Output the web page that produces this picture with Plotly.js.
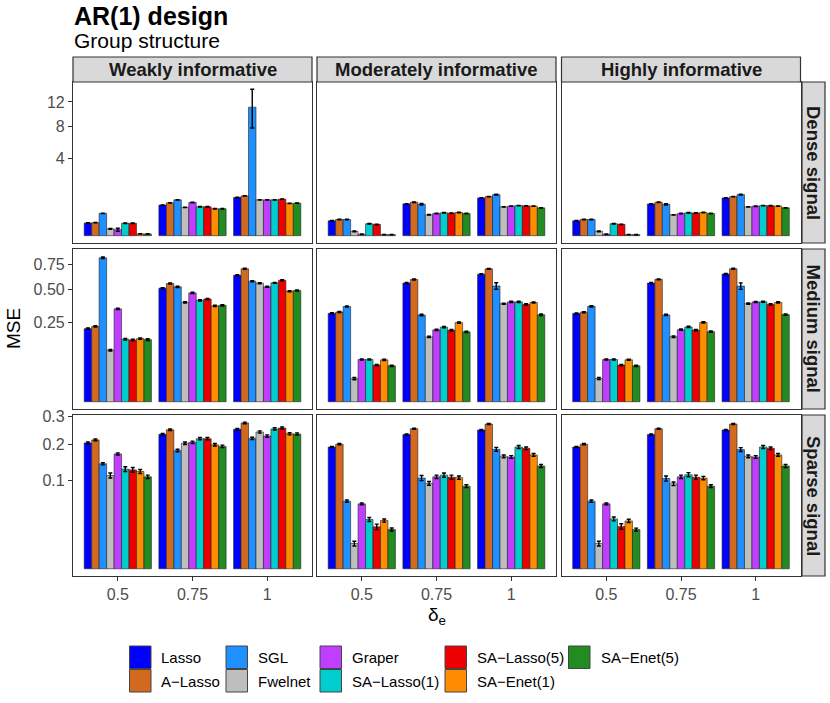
<!DOCTYPE html>
<html lang="en">
    <head>
        <meta charset="UTF-8" />
        <meta name="viewport" content="width=device-width, initial-scale=1.0" />
        <script src="https://cdn.plot.ly/plotly-3.0.1.min.js"></script>
        <title>AR(1) design - Group structure</title>
        <style>
            html, body { margin: 0; padding: 0; background: #fff; }
        </style>
    </head>
    <body>
        <div id="graph"></div>
    </body>
    <script>
        // Methods, colours and facet labels
        const methods = ["Lasso", "A\u2212Lasso", "SGL", "Fwelnet", "Graper",
            "SA\u2212Lasso(1)", "SA\u2212Lasso(5)", "SA\u2212Enet(1)", "SA\u2212Enet(5)"];
        const colors = ["#0000FF", "#D2691E", "#1E90FF", "#BEBEBE", "#BF3EFF",
            "#00CDCD", "#EE0000", "#FF8C00", "#228B22"];
        const deltas = ["0.5", "0.75", "1"];
        const priors = ["Weakly informative", "Moderately informative", "Highly informative"];
        const signals = ["Dense signal", "Medium signal", "Sparse signal"];

        // y ticks per row (sqrt scale)
        const yTickVals = [[4, 8, 12], [0.25, 0.5, 0.75], [0.1, 0.2, 0.3]];
        const yTickText = [["4", "8", "12"], ["0.25", "0.50", "0.75"], ["0.1", "0.2", "0.3"]];

        // MSE, one row per method: [delta 0.5, 0.75, 1]
        const denseWeak = [
            [0.108, 0.627, 0.98], [0.113, 0.724, 1.06], [0.335, 0.861, 11.08],
            [0.031, 0.537, 0.86], [0.025, 0.742, 0.86], [0.103, 0.56, 0.86],
            [0.103, 0.56, 0.895], [0.002, 0.486, 0.70], [0.002, 0.486, 0.71]];
        const denseModerate = [
            [0.149, 0.677, 0.954], [0.176, 0.749, 1.022], [0.176, 0.663, 1.13],
            [0.0124, 0.291, 0.556], [0.0012, 0.33, 0.582], [0.095, 0.35, 0.608],
            [0.085, 0.34, 0.595], [0.0007, 0.36, 0.582], [0.0007, 0.33, 0.518]];
        const denseHigh = [
            [0.148, 0.675, 0.952], [0.175, 0.748, 1.02], [0.176, 0.66, 1.13],
            [0.0126, 0.29, 0.556], [0.0012, 0.33, 0.58], [0.095, 0.35, 0.606],
            [0.086, 0.345, 0.6], [0.0007, 0.36, 0.585], [0.0007, 0.33, 0.52]];
        const mediumWeak = [
            [0.213, 0.515, 0.638], [0.226, 0.558, 0.706], [0.827, 0.527, 0.579],
            [0.106, 0.394, 0.561], [0.344, 0.473, 0.527], [0.156, 0.41, 0.564],
            [0.152, 0.421, 0.589], [0.159, 0.366, 0.488], [0.154, 0.371, 0.494]];
        const mediumModerate = [
            [0.312, 0.5625, 0.65], [0.321, 0.597, 0.705], [0.362, 0.30, 0.535],
            [0.0213, 0.168, 0.383], [0.0711, 0.206, 0.398], [0.0711, 0.222, 0.398],
            [0.0535, 0.204, 0.378], [0.07, 0.25, 0.393], [0.0516, 0.195, 0.302]];
        const mediumHigh = [
            [0.311, 0.562, 0.651], [0.32, 0.598, 0.706], [0.363, 0.301, 0.534],
            [0.0215, 0.169, 0.384], [0.071, 0.207, 0.397], [0.0712, 0.223, 0.399],
            [0.0536, 0.205, 0.378], [0.0702, 0.251, 0.394], [0.0515, 0.196, 0.303]];
        const sparseWeak = [
            [0.204, 0.233, 0.251], [0.214, 0.249, 0.274], [0.142, 0.180, 0.219],
            [0.112, 0.203, 0.241], [0.170, 0.206, 0.227], [0.128, 0.218, 0.252],
            [0.126, 0.218, 0.255], [0.122, 0.198, 0.235], [0.109, 0.193, 0.234]];
        const sparseModerate = [
            [0.191, 0.232, 0.248], [0.2, 0.253, 0.27], [0.0588, 0.106, 0.184],
            [0.0082, 0.094, 0.163], [0.0543, 0.109, 0.161], [0.0313, 0.113, 0.191],
            [0.0227, 0.108, 0.187], [0.030, 0.107, 0.167], [0.0199, 0.0878, 0.136]];
        const sparseHigh = [
            [0.191, 0.232, 0.248], [0.2, 0.253, 0.27], [0.0588, 0.105, 0.183],
            [0.0082, 0.093, 0.163], [0.0543, 0.109, 0.161], [0.032, 0.114, 0.191],
            [0.0231, 0.108, 0.187], [0.0295, 0.106, 0.167], [0.0198, 0.088, 0.136]];

        // Standard errors, same layout
        const seDenseWeak = [
            [0.004, 0.01, 0.012], [0.004, 0.01, 0.012], [0.006, 0.012, 3.3],
            [0.003, 0.01, 0.01], [0.012, 0.012, 0.012], [0.004, 0.01, 0.01],
            [0.004, 0.01, 0.012], [0.0005, 0.01, 0.01], [0.0005, 0.01, 0.01]];
        const seDenseModerate = [
            [0.005, 0.01, 0.01], [0.005, 0.01, 0.01], [0.006, 0.03, 0.02],
            [0.002, 0.008, 0.008], [0.0005, 0.008, 0.008], [0.004, 0.008, 0.008],
            [0.004, 0.008, 0.008], [0.0003, 0.008, 0.008], [0.0003, 0.008, 0.008]];
        const seDenseHigh = [
            [0.005, 0.01, 0.01], [0.005, 0.01, 0.01], [0.006, 0.03, 0.02],
            [0.002, 0.008, 0.008], [0.0005, 0.008, 0.008], [0.004, 0.008, 0.008],
            [0.004, 0.008, 0.008], [0.0003, 0.008, 0.008], [0.0003, 0.008, 0.008]];
        const seMediumWeak = [
            [0.004, 0.005, 0.005], [0.004, 0.005, 0.005], [0.01, 0.006, 0.006],
            [0.003, 0.005, 0.005], [0.005, 0.005, 0.005], [0.004, 0.005, 0.005],
            [0.004, 0.005, 0.005], [0.004, 0.005, 0.005], [0.004, 0.005, 0.005]];
        const seMediumModerate = [
            [0.004, 0.005, 0.005], [0.004, 0.005, 0.005], [0.005, 0.005, 0.03],
            [0.002, 0.004, 0.005], [0.002, 0.004, 0.005], [0.002, 0.004, 0.005],
            [0.002, 0.004, 0.005], [0.002, 0.004, 0.005], [0.002, 0.004, 0.005]];
        const seMediumHigh = [
            [0.004, 0.005, 0.005], [0.004, 0.005, 0.005], [0.005, 0.005, 0.03],
            [0.002, 0.004, 0.005], [0.002, 0.004, 0.005], [0.002, 0.004, 0.005],
            [0.002, 0.004, 0.005], [0.002, 0.004, 0.005], [0.002, 0.004, 0.005]];
        const seSparseWeak = [
            [0.003, 0.003, 0.003], [0.003, 0.003, 0.003], [0.003, 0.004, 0.004],
            [0.006, 0.004, 0.004], [0.003, 0.004, 0.004], [0.006, 0.004, 0.004],
            [0.006, 0.004, 0.004], [0.005, 0.004, 0.004], [0.004, 0.004, 0.004]];
        const seSparseModerate = [
            [0.002, 0.002, 0.002], [0.002, 0.002, 0.002], [0.002, 0.006, 0.006],
            [0.0015, 0.004, 0.004], [0.0015, 0.004, 0.004], [0.0025, 0.005, 0.005],
            [0.003, 0.005, 0.004], [0.002, 0.004, 0.004], [0.0015, 0.003, 0.004]];
        const seSparseHigh = [
            [0.002, 0.002, 0.002], [0.002, 0.002, 0.002], [0.002, 0.006, 0.006],
            [0.0015, 0.004, 0.004], [0.0015, 0.004, 0.004], [0.0025, 0.005, 0.005],
            [0.003, 0.005, 0.004], [0.002, 0.004, 0.004], [0.0015, 0.003, 0.004]];

        const panels = [
            [denseWeak, denseModerate, denseHigh],
            [mediumWeak, mediumModerate, mediumHigh],
            [sparseWeak, sparseModerate, sparseHigh]];
        const panelSE = [
            [seDenseWeak, seDenseModerate, seDenseHigh],
            [seMediumWeak, seMediumModerate, seMediumHigh],
            [seSparseWeak, seSparseModerate, seSparseHigh]];

        // Page geometry (pixels)
        const W = 830, H = 703;
        const colLeft = [73, 317, 561.5];
        const colWidth = 239;
        const rowTop = [82, 249, 415];
        const rowHeight = [161, 160, 161];
        const yRanges = [[-0.19, 3.98], [-0.046, 0.965], [-0.026, 0.552]];
        const font = "Liberation Sans, Arial, Helvetica, sans-serif";

        const px = (x) => x / W;
        const py = (y) => 1 - y / H;

        const traces = [];
        const layout = {
            width: W,
            height: H,
            margin: { l: 0, r: 0, t: 0, b: 0 },
            paper_bgcolor: "#fff",
            plot_bgcolor: "#fff",
            barmode: "group",
            bargap: 0.1,
            bargroupgap: 0,
            showlegend: false,
            font: { family: font, color: "#000" },
            shapes: [],
            annotations: [],
        };

        for (let r = 0; r < 3; r++) {
            for (let c = 0; c < 3; c++) {
                const idx = r * 3 + c + 1;
                const xName = idx === 1 ? "x" : "x" + idx;
                const yName = idx === 1 ? "y" : "y" + idx;

                layout["xaxis" + (idx === 1 ? "" : idx)] = {
                    domain: [px(colLeft[c]), px(colLeft[c] + colWidth)],
                    anchor: yName,
                    type: "category",
                    range: [-0.6, 2.6],
                    showgrid: false,
                    zeroline: false,
                    showline: true,
                    mirror: true,
                    linecolor: "#333",
                    linewidth: 1.2,
                    ticks: r === 2 ? "outside" : "",
                    ticklen: 4,
                    tickcolor: "#333",
                    showticklabels: r === 2,
                    tickfont: { size: 16, color: "#4d4d4d" },
                    fixedrange: true,
                };
                layout["yaxis" + (idx === 1 ? "" : idx)] = {
                    domain: [py(rowTop[r] + rowHeight[r]), py(rowTop[r])],
                    anchor: xName,
                    range: yRanges[r],
                    tickmode: "array",
                    tickvals: yTickVals[r].map(Math.sqrt),
                    ticktext: yTickText[r],
                    showgrid: false,
                    zeroline: false,
                    showline: true,
                    mirror: true,
                    linecolor: "#333",
                    linewidth: 1.2,
                    ticks: c === 0 ? "outside" : "",
                    ticklen: 4,
                    tickcolor: "#333",
                    showticklabels: c === 0,
                    tickfont: { size: 16, color: "#4d4d4d" },
                    fixedrange: true,
                };

                const vals = panels[r][c];
                const ses = panelSE[r][c];
                methods.forEach((name, m) => {
                    // sqrt scale: bars and error bars drawn in sqrt units
                    const y = vals[m].map(Math.sqrt);
                    const up = vals[m].map((v, k) => Math.sqrt(v + ses[m][k]) - Math.sqrt(v));
                    const down = vals[m].map((v, k) => Math.sqrt(v) - Math.sqrt(Math.max(v - ses[m][k], 0)));
                    traces.push({
                        type: "bar",
                        name: name,
                        x: deltas,
                        y: y,
                        xaxis: xName,
                        yaxis: yName,
                        marker: { color: colors[m], line: { color: "#222", width: 0.6 } },
                        error_y: {
                            type: "data",
                            symmetric: false,
                            array: up,
                            arrayminus: down,
                            color: "#000",
                            thickness: 1.4,
                            width: 2,
                        },
                        hovertemplate: name + ": %{customdata}<extra></extra>",
                        customdata: vals[m],
                    });
                });
            }
        }

        // Facet strips (top)
        priors.forEach((p, c) => {
            layout.shapes.push({
                type: "rect", xref: "paper", yref: "paper",
                x0: px(colLeft[c]), x1: px(colLeft[c] + colWidth),
                y0: py(82), y1: py(57),
                fillcolor: "#D9D9D9", line: { color: "#333", width: 1.2 },
            });
            layout.annotations.push({
                xref: "paper", yref: "paper",
                x: px(colLeft[c] + colWidth / 2), y: py(70),
                text: "<b>" + p + "</b>", showarrow: false,
                xanchor: "center", yanchor: "middle",
                font: { size: 18.5, color: "#1a1a1a" },
            });
        });

        // Facet strips (right)
        signals.forEach((s, r) => {
            layout.shapes.push({
                type: "rect", xref: "paper", yref: "paper",
                x0: px(802), x1: px(825),
                y0: py(rowTop[r] + rowHeight[r]), y1: py(rowTop[r]),
                fillcolor: "#D9D9D9", line: { color: "#333", width: 1.2 },
            });
            layout.annotations.push({
                xref: "paper", yref: "paper",
                x: px(813.5), y: py(rowTop[r] + rowHeight[r] / 2),
                text: "<b>" + s + "</b>", showarrow: false, textangle: 90,
                xanchor: "center", yanchor: "middle",
                font: { size: 18.5, color: "#1a1a1a" },
            });
        });

        // Titles and axis titles
        layout.annotations.push(
            {
                xref: "paper", yref: "paper", x: px(72), y: py(16),
                text: "<b>AR(1) design</b>", showarrow: false,
                xanchor: "left", yanchor: "middle", font: { size: 25 },
            },
            {
                xref: "paper", yref: "paper", x: px(72), y: py(41),
                text: "Group structure", showarrow: false,
                xanchor: "left", yanchor: "middle", font: { size: 21 },
            },
            {
                xref: "paper", yref: "paper", x: px(13), y: py(329),
                text: "MSE", showarrow: false, textangle: -90,
                xanchor: "center", yanchor: "middle", font: { size: 19 },
            },
            {
                xref: "paper", yref: "paper", x: px(436.5), y: py(616),
                text: "\u03b4<sub>e</sub>", showarrow: false,
                xanchor: "center", yanchor: "middle", font: { size: 19 },
            }
        );

        // Legend (ggplot style keys, column-major, 2 rows)
        const legendKeyX = [129.5, 226, 320, 445, 568.5];
        const legendTextX = [159, 256, 350, 474.5, 598.5];
        const legendRowTop = [646, 669.5];
        methods.forEach((name, m) => {
            const col = Math.floor(m / 2), row = m % 2;
            layout.shapes.push({
                type: "rect", xref: "paper", yref: "paper",
                x0: px(legendKeyX[col]), x1: px(legendKeyX[col] + 21.5),
                y0: py(legendRowTop[row] + 22.5), y1: py(legendRowTop[row]),
                fillcolor: colors[m], line: { color: "#444", width: 1 },
            });
            layout.annotations.push({
                xref: "paper", yref: "paper",
                x: px(legendTextX[col]), y: py(legendRowTop[row] + 11.5),
                text: name, showarrow: false,
                xanchor: "left", yanchor: "middle", font: { size: 15 },
            });
        });

        Plotly.newPlot("graph", traces, layout, { displayModeBar: false, responsive: false });
    </script>
    <noscript> Please enable JavaScript in your browser. </noscript>
</html>
